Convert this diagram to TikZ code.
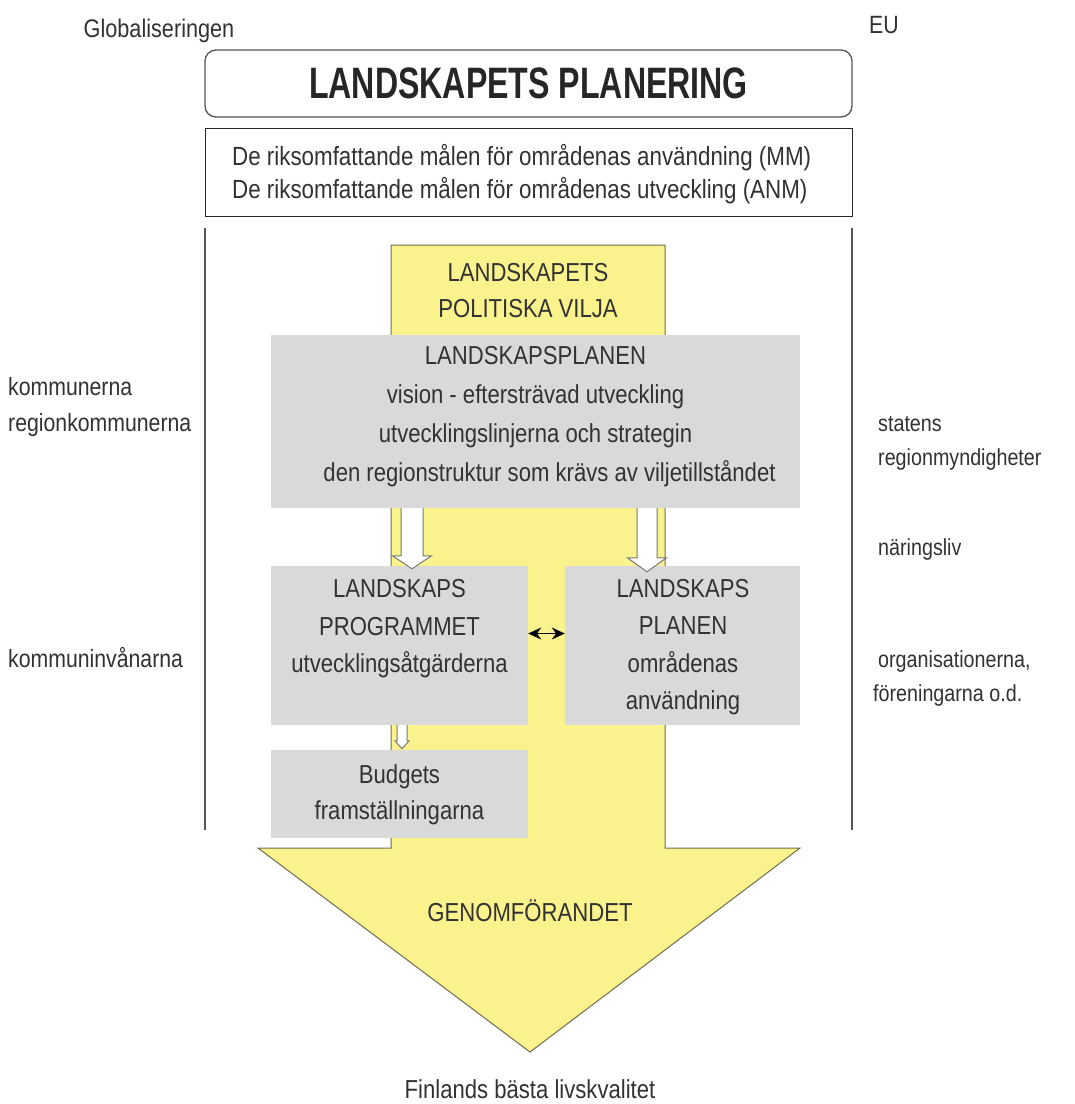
\documentclass[tikz,border=0pt]{standalone}
\usepackage{fontspec}
\setmainfont{Liberation Sans}[FakeStretch=0.85]
\newfontfamily\titlefont{Liberation Sans}[FakeStretch=0.73]
\usetikzlibrary{arrows.meta,calc}

\definecolor{plyellow}{RGB}{250,242,140}
\definecolor{plgray}{RGB}{217,217,217}
\definecolor{ploutline}{RGB}{112,110,78}
\definecolor{pltext}{RGB}{50,50,50}
\definecolor{plframe}{RGB}{85,85,85}
\definecolor{hollowline}{RGB}{120,120,120}

% hollow block arrow: #1 start, #2 tip, #3 shaft half width, #4 head half width, #5 head length
\newcommand\hollowdown[5]{%
  \draw[hollow] let \p1=(#1), \p2=(#2) in
    (\x2-#3pt,\y1) -- (\x2-#3pt,\y2+#5pt) -- (\x2-#4pt,\y2+#5pt) -- (\x2,\y2)
    -- (\x2+#4pt,\y2+#5pt) -- (\x2+#3pt,\y2+#5pt) -- (\x2+#3pt,\y1);}

\begin{document}
\begin{tikzpicture}[x=1pt,y=-1pt,
  txt/.style={text=pltext, inner sep=0pt, align=center},
  side/.style={text=pltext, inner sep=0pt, align=left, anchor=base west, font=\fontsize{25}{36}\selectfont},
  rside/.style={side, font=\fontsize{23.2}{34}\selectfont},
  graybox/.style={fill=plgray, draw=none, inner sep=0pt},
  hollow/.style={draw=hollowline, fill=white, line width=1pt},
  frame/.style={draw=plframe, line width=1.3pt},
  dbl/.style={{Stealth[length=13pt,width=12pt]}-{Stealth[length=13pt,width=12pt]}, line width=1.3pt, black}
]
\useasboundingbox (0,0) rectangle (1075,1104);
\fill[white] (0,0) rectangle (1075,1104);

% outer context labels
\node[txt, font=\fontsize{25.5}{30}\selectfont] (glob) at (159,31) {Globaliseringen};
\node[txt, anchor=mid west, font=\fontsize{25}{30}\selectfont] (eu) at (869,31) {EU};

% headline and national goals
\node[frame, rounded corners=11pt, minimum width=647pt, minimum height=67pt, inner sep=0pt] (title) at (528.5,83.5)
  {\titlefont\bfseries\fontsize{44}{44}\selectfont\color{black!85} LANDSKAPETS PLANERING};
\node[draw=black!85, line width=1pt, minimum width=647pt, minimum height=88pt, inner sep=0pt] (mm) at (528.5,172) {};
\node[txt, anchor=west, align=left, font=\fontsize{26.3}{33}\selectfont] (mmtxt) at (232,174)
  {De riksomfattande målen för områdenas användning (MM)\\De riksomfattande målen för områdenas utveckling (ANM)};

% side rails
\coordinate (lt) at (205,228); \coordinate (lb) at (205,830);
\coordinate (rt) at (852,228); \coordinate (rb) at (852,830);
\draw[frame] (lt) -- (lb);
\draw[frame] (rt) -- (rb);

% the big yellow arrow
\draw[ploutline, fill=plyellow, line width=1pt, line join=miter]
  (391,245) -- (665,245) -- (665,848) -- (800,848) -- (530,1052) -- (258,848) -- (391,848) -- cycle;
\node[txt, font=\fontsize{26}{36}\selectfont] (vilja) at (528,291) {LANDSKAPETS\\POLITISKA VILJA};
\node[txt, font=\fontsize{26}{30}\selectfont] (genom) at (530,911) {GENOMFÖRANDET};
\node[txt, font=\fontsize{26}{30}\selectfont] (final) at (530,1089) {Finlands bästa livskvalitet};

% gray boxes
\node[graybox, minimum width=529pt, minimum height=173pt] (plan) at (535.5,421.5) {};
\node[txt, font=\fontsize{26}{39}\selectfont] (plantxt) at (535.5,417)
  {LANDSKAPSPLANEN\\vision - eftersträvad utveckling\\utvecklingslinjerna och strategin\\\hspace*{28pt}den regionstruktur som krävs av viljetillståndet};

\node[graybox, minimum width=257pt, minimum height=159pt] (prog) at (399.5,645.5) {};
\node[txt, font=\fontsize{26}{37.5}\selectfont] (progtxt) at (399.5,629)
  {LANDSKAPS\\PROGRAMMET\\utvecklingsåtgärderna};

\node[graybox, minimum width=235pt, minimum height=159pt] (land) at (682.5,645.5) {};
\node[txt, font=\fontsize{26}{37.5}\selectfont] (landtxt) at (683,647)
  {LANDSKAPS\\PLANEN\\områdenas\\användning};

\node[graybox, minimum width=257pt, minimum height=88pt] (budget) at (399.5,794) {};
\node[txt, font=\fontsize{26}{36}\selectfont] (budgettxt) at (399.5,795)
  {Budgets\\framställningarna};

% connectors between the boxes
\coordinate (lx) at (412,0);
\coordinate (rx) at (647,0);
\coordinate (sx) at (402,0);
\hollowdown{plan.south -| lx}{$(prog.north -| lx)+(0,3)$}{11}{19.5}{13}
\hollowdown{plan.south -| rx}{$(land.north -| rx)+(0,6)$}{10}{19.5}{14}
\hollowdown{prog.south -| sx}{$(budget.north -| sx)+(0,-1)$}{5}{7}{8}
\draw[dbl] ([yshift=12pt]prog.east) -- ([yshift=12pt]land.west);

% actors around the planning (base anchor sits on the last line)
\node[side] (komm) at (8,431) {kommunerna\\regionkommunerna};
\node[side] (invan) at (8,667) {kommuninvånarna};
\node[rside] (stat) at (878,465) {statens\\regionmyndigheter};
\node[rside] (nar) at (878,555) {näringsliv};
\node[rside] (org) at (873,701) {\hspace*{5pt}organisationerna,\\föreningarna o.d.};
\end{tikzpicture}
\end{document}
